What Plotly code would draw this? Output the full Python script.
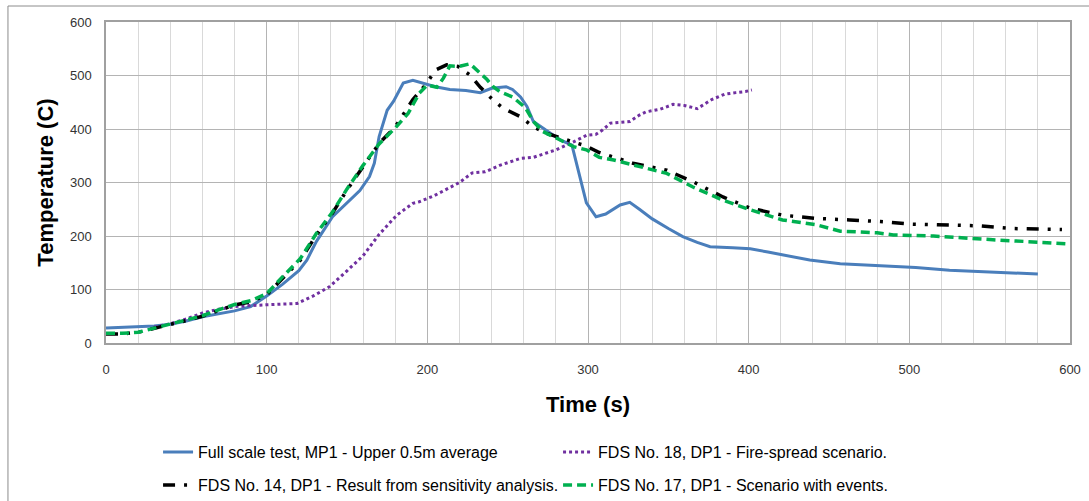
import plotly.graph_objects as go

# Full scale test, MP1 - upper 0.5 m average
test_time = [0, 10, 20, 30, 40, 50, 60, 70, 80, 90, 100, 110, 120, 125, 131, 141, 150, 158,
             164, 167, 170, 175, 179, 185, 191, 199, 205, 214, 224, 233, 240, 249, 253, 258,
             262, 266, 274, 283, 290, 294, 299, 305, 311, 320, 326, 332, 340, 350, 359, 368,
             376, 390, 401, 412, 424, 438, 457, 470, 484, 504, 525, 546, 565, 580]
test_temp = [28, 29, 31, 32, 35, 41, 49, 54, 60, 68, 88, 110, 135, 155, 190, 236, 261, 285,
             311, 336, 386, 435, 452, 486, 491, 484, 479, 474, 472, 468, 476, 479, 474, 460,
             442, 414, 398, 379, 370, 320, 262, 236, 241, 258, 263, 250, 232, 214, 199, 188,
             180, 178, 176, 170, 163, 155, 148, 146, 144, 141, 136, 133, 130, 129]

# FDS No. 18 - fire-spread scenario
fds18_time = [30, 40, 50, 60, 70, 80, 90, 100, 110, 119, 129, 139, 150, 160, 170, 181, 191,
              195, 204, 212, 220, 228, 236, 245, 258, 266, 280, 291, 299, 305, 309, 314, 326,
              332, 336, 345, 353, 360, 368, 377, 385, 392, 398, 402]
fds18_temp = [30, 36, 45, 56, 63, 68, 70, 71, 73, 74, 88, 105, 135, 163, 203, 239, 261,
              264, 275, 287, 300, 318, 320, 332, 345, 347, 361, 376, 388, 390, 398, 411, 414,
              426, 432, 437, 446, 444, 438, 455, 465, 468, 470, 473]

# FDS No. 14 - result from sensitivity analysis
fds14_time = [0, 10, 20, 30, 40, 50, 60, 70, 80, 90, 100, 110, 121, 131, 141, 150, 160, 170,
              180, 191, 199.5, 205, 212, 219, 226.5, 233, 240, 247, 258, 266, 274, 283, 291,
              299, 307, 316, 328, 349, 365, 384, 401, 421, 442, 463, 482, 502, 523, 544, 563,
              583, 595]
fds14_temp = [17, 17, 20, 27, 34, 42, 50, 60, 71, 77, 90, 121, 155, 202, 243, 286, 330, 373,
              404, 455, 485, 510, 520, 517, 501, 478, 457, 439, 423, 404, 392, 383, 376,
              368, 356, 348, 336, 323, 302, 273, 252, 239, 233, 230, 227, 222, 220, 219, 214,
              212, 212]

# FDS No. 17 - scenario with events
fds17_time = [0, 10, 20, 30, 40, 50, 60, 70, 80, 90, 100, 110, 121, 131, 141, 150, 160, 170,
              180, 188, 195, 200, 206, 210, 214, 220, 226.5, 233, 237, 241, 245, 253, 261,
              266, 272, 283, 291, 299, 307, 316, 328, 349, 365, 384, 401, 421, 442, 457, 480,
              490, 515, 535, 552, 577, 600]
fds17_temp = [18, 18, 20, 28, 35, 43, 51, 62, 72, 79, 92, 124, 158, 205, 245, 288, 332, 372,
              402, 429, 467, 482, 478, 495, 518, 517, 522, 504, 493, 479, 470, 460, 440,
              414, 395, 379, 367, 361, 347, 342, 333, 317, 292, 267, 249, 230, 221, 209, 206,
              202, 200, 197, 193, 189, 185]

x_ticks = [0, 100, 200, 300, 400, 500, 600]
y_ticks = [0, 100, 200, 300, 400, 500, 600]

font_main = "Liberation Sans, Arial, sans-serif"

fig = go.Figure()

fig.add_trace(go.Scatter(
    x=test_time, y=test_temp, mode="lines",
    name="Full scale test, MP1 - Upper 0.5m average",
    line=dict(color="#4A7EBB", width=3), legend="legend",
))
fig.add_trace(go.Scatter(
    x=fds18_time, y=fds18_temp, mode="lines",
    name="FDS No. 18, DP1 - Fire-spread scenario.",
    line=dict(color="#7030A0", width=3, dash="dot"), legend="legend",
))
fig.add_trace(go.Scatter(
    x=fds14_time, y=fds14_temp, mode="lines",
    name="FDS No. 14, DP1 - Result from sensitivity analysis.",
    line=dict(color="#000000", width=3.5, dash="12px,9px,3px,9px,3px,9px"), legend="legend2",
))
fig.add_trace(go.Scatter(
    x=fds17_time, y=fds17_temp, mode="lines",
    name="FDS No. 17, DP1 - Scenario with events.",
    line=dict(color="#00B050", width=3.5, dash="9px,5px"), legend="legend2",
))

legend_common = dict(
    orientation="h", xanchor="left", yanchor="middle",
    entrywidth=355, entrywidthmode="pixels",
    font=dict(family=font_main, size=16, color="#000000"),
    bgcolor="rgba(0,0,0,0)", borderwidth=0, itemwidth=30,
)

fig.update_layout(
    width=1089, height=501,
    margin=dict(l=106, r=19, t=22, b=158, autoexpand=False),
    paper_bgcolor="#FFFFFF", plot_bgcolor="#FFFFFF",
    font=dict(family=font_main, color="#333333"),
    showlegend=True,
    legend=dict(x=0.054, y=-0.34, **legend_common),
    legend2=dict(x=0.054, y=-0.443, **legend_common),
    xaxis=dict(
        range=[0, 600], tickmode="array", tickvals=x_ticks,
        ticktext=[str(v) for v in x_ticks],
        showgrid=True, gridcolor="#B4B4B4", gridwidth=1,
        minor=dict(dtick=20, tick0=0, showgrid=True, gridcolor="#D9D9D9", gridwidth=1),
        showline=True, linecolor="#A0A0A0", linewidth=1.5, mirror=True,
        zeroline=False, ticks="", ticklabelstandoff=14,
        tickfont=dict(family=font_main, size=13, color="#333333"),
        title=dict(text="Time (s)", standoff=20,
                   font=dict(family=font_main, size=22, color="#000000", weight="bold")),
    ),
    yaxis=dict(
        range=[0, 600], tickmode="array", tickvals=y_ticks,
        ticktext=[str(v) for v in y_ticks],
        showgrid=True, gridcolor="#B4B4B4", gridwidth=1,
        showline=True, linecolor="#A0A0A0", linewidth=1.5, mirror=True,
        zeroline=False, ticks="", ticklabelstandoff=10,
        tickfont=dict(family=font_main, size=13, color="#333333"),
        title=dict(text="Temperature (C)", standoff=10,
                   font=dict(family=font_main, size=22, color="#000000", weight="bold")),
    ),
    shapes=[dict(
        type="rect", xref="paper", yref="paper",
        x0=-0.1017, x1=1.03, y0=-0.52, y1=1.0498,
        line=dict(color="#8C8C8C", width=1), fillcolor="rgba(0,0,0,0)", layer="below",
    )],
)

fig.write_html("out.html")
